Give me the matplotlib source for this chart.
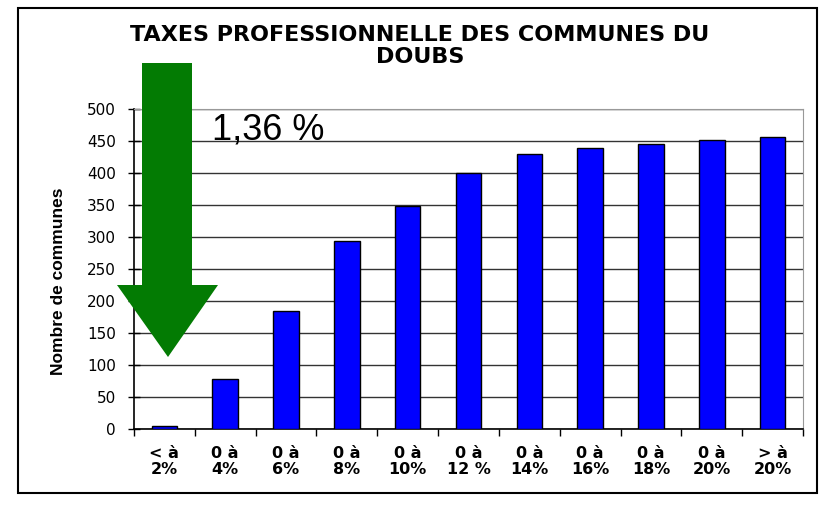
import matplotlib.pyplot as plt
from matplotlib.patches import Rectangle, Polygon

# Données
categories = ["< à\n2%", "0 à\n4%", "0 à\n6%", "0 à\n8%", "0 à\n10%", "0 à\n12 %",
              "0 à\n14%", "0 à\n16%", "0 à\n18%", "0 à\n20%", "> à\n20%"]
communes = [5, 78, 184, 293, 348, 400, 430, 439, 446, 451, 456]
y_ticks = [0, 50, 100, 150, 200, 250, 300, 350, 400, 450, 500]

plt.rcParams['font.family'] = ['DejaVu Sans']

W, H = 835, 505
fig = plt.figure(figsize=(W / 100, H / 100), dpi=100)


def px(x, y):
    # pixels de l'image -> fraction de la figure
    return (x / W, 1 - y / H)


# Cadre extérieur
x0, y0 = px(18, 493)
fig.patches.append(Rectangle((x0, y0), 799 / W, 485 / H, transform=fig.transFigure,
                             fill=False, edgecolor='black', linewidth=1.5))

ax = fig.add_axes([134 / W, 1 - 429 / H, 669 / W, 320 / H])
pos = list(range(len(categories)))
ax.bar(pos, communes, width=0.42, color='#0000FF', edgecolor='black', linewidth=1, zorder=3)

ax.set_xlim(-0.5, len(categories) - 0.5)
ax.set_ylim(0, 500)
ax.set_yticks(y_ticks)
ax.tick_params(axis='y', direction='inout', length=8, width=1, labelsize=11, pad=9)
ax.yaxis.grid(True, color='#333333', linewidth=1, zorder=0)

# étiquettes entre les graduations
ax.set_xticks([p - 0.5 for p in pos] + [len(pos) - 0.5])
ax.set_xticklabels([])
ax.set_xticks(pos, minor=True)
ax.set_xticklabels(categories, minor=True, fontweight='bold', fontsize=11.5, linespacing=1.15)
ax.tick_params(axis='x', which='major', direction='out', length=5, width=1)
ax.tick_params(axis='x', which='minor', length=0, pad=12)

for side in ['top', 'right']:
    ax.spines[side].set_color('#999999')
ax.spines['left'].set_linewidth(1.2)
ax.spines['bottom'].set_linewidth(1.2)

ax.set_ylabel("Nombre de communes", fontweight='bold', fontsize=12.5,
              family=['Liberation Sans', 'DejaVu Sans'])
ax.yaxis.set_label_coords(-0.102, 0.4625)

fig.text(420 / W, 1 - 46 / H, "TAXES PROFESSIONNELLE DES COMMUNES DU\nDOUBS",
         ha='center', va='center', fontweight='bold', fontsize=16, linespacing=1.15)

# Flèche verte
fleche = [(142, 63), (192, 63), (192, 285), (218, 285), (168, 357), (117, 285), (142, 285)]
fig.patches.append(Polygon([px(x, y) for x, y in fleche], closed=True,
                           transform=fig.transFigure, facecolor='#037B03',
                           edgecolor='none', zorder=5))

fig.text(212 / W, 1 - 139 / H, "1,36 %", ha='left', va='baseline', fontsize=26,
         family=['Liberation Sans', 'DejaVu Sans'])

fig.savefig("out.png", dpi=100)
